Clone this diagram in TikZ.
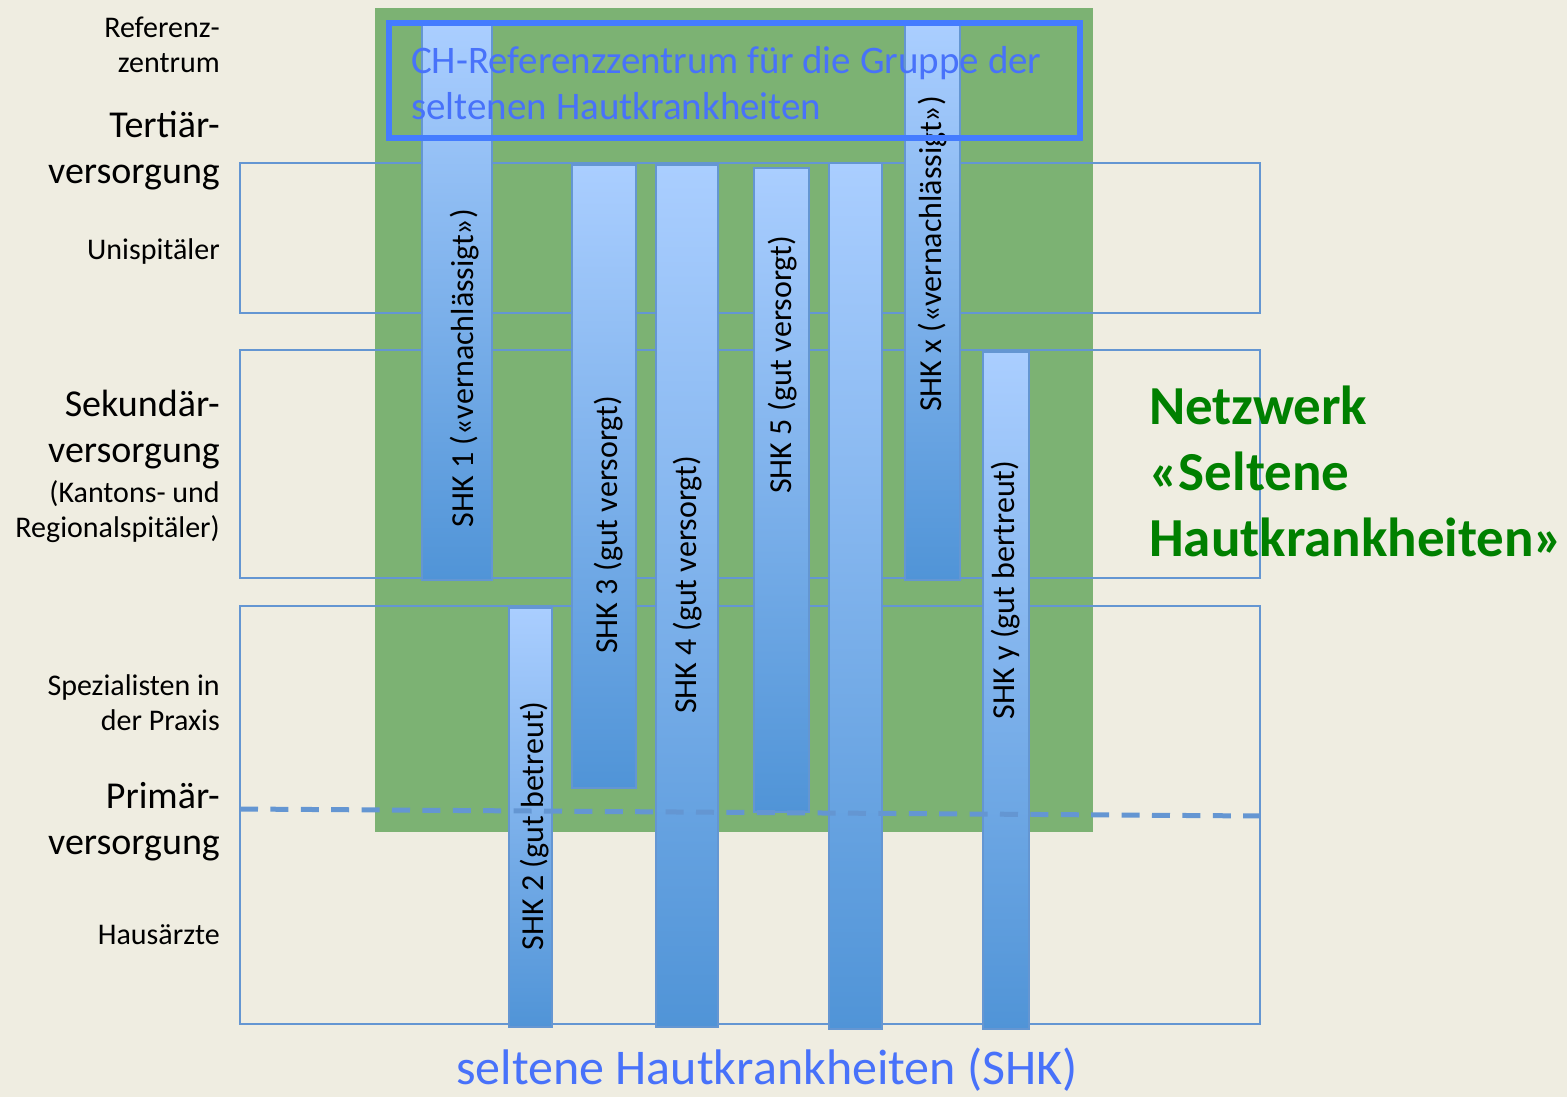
\documentclass[tikz,border=0pt]{standalone}
\usepackage{fontspec}
\setmainfont{Carlito}
\usetikzlibrary{positioning}
\definecolor{myBack}{RGB}{239, 237, 225}
\definecolor{myGreen}{RGB}{124, 178, 115}
\definecolor{myFrame}{RGB}{68, 124, 255}
\definecolor{myLine}{RGB}{100, 150, 210}
\definecolor{myBarTop}{RGB}{170, 206, 255}
\definecolor{myBarBot}{RGB}{80, 148, 215}
\definecolor{myText}{RGB}{72, 114, 250}
\definecolor{myNet}{RGB}{0, 128, 0}
\tikzstyle{level}= [draw=myLine, line width=1.5pt, inner sep=0pt]
\tikzstyle{bar}= [draw=myLine, line width=1.2pt, inner sep=0pt, top color=myBarTop, bottom color=myBarBot]
\tikzstyle{shk}= [rotate=90, font=\fontsize{32}{38}\selectfont]
\tikzstyle{small}= [anchor=east, align=right, inner sep=0pt, font=\fontsize{30}{35}\selectfont]
\tikzstyle{big}= [anchor=east, align=right, inner sep=0pt, font=\fontsize{38}{46}\selectfont]

\begin{document}
\begin{tikzpicture}[x=1pt,y=-1pt]
    % page and network area
    \useasboundingbox[fill=myBack] (0,0) rectangle (1567,1097);
    \fill[myGreen] (375,8) rectangle (1093,832);

    % care levels
    \node [level, minimum width=1020pt, minimum height=150pt] (Tert) at (750,238) {};
    \node [level, minimum width=1020pt, minimum height=228pt] (Sek) at (750,464) {};
    \node [level, minimum width=1020pt, minimum height=418pt] (Prim) at (750,815) {};

    % disease bars
    \node [bar, minimum width=70pt, minimum height=555pt] (Bar1) at (457,302.5) {};
    \node [bar, minimum width=43pt, minimum height=419pt] (Bar2) at (530.5,817.5) {};
    \node [bar, minimum width=64pt, minimum height=623pt] (Bar3) at (604,476.5) {};
    \node [bar, minimum width=62pt, minimum height=862pt] (Bar4) at (687,596) {};
    \node [bar, minimum width=55pt, minimum height=644pt] (Bar5) at (781.5,490) {};
    \node [bar, minimum width=53pt, minimum height=866pt] (Bar6) at (855.5,596) {};
    \node [bar, minimum width=55pt, minimum height=555pt] (BarX) at (932.5,302.5) {};
    \node [bar, minimum width=46pt, minimum height=677pt] (BarY) at (1006,690.5) {};

    \node [shk] (Shk1) at (465,368) {SHK 1 («vernachlässigt»)};
    \node [shk] (Shk2) at (535,826) {SHK 2 (gut betreut)};
    \node [shk] (Shk3) at (609,525) {SHK 3 (gut versorgt)};
    \node [shk] (Shk4) at (688,585) {SHK 4 (gut versorgt)};
    \node [shk] (Shk5) at (783,365) {SHK 5 (gut versorgt)};
    \node [shk] (ShkX) at (933,254) {SHK x («vernachlässigt»)};
    \node [shk] (ShkY) at (1006,590) {SHK y (gut bertreut)};

    % border primary care
    \coordinate (DashL) at (240,809);
    \coordinate (DashR) at (1260,816);
    \draw[myLine, line width=5pt, dash pattern=on 18pt off 12.4pt] (DashL) -- (DashR);

    % reference centre
    \node [draw=myFrame, line width=6pt, minimum width=691pt, minimum height=115pt] (Ref) at (734.5,80.5) {};
    \node [anchor=west, align=left, inner sep=0pt, text=myText, font=\fontsize{39}{46}\selectfont] (RefText) at (411,83)
    {CH-Referenzzentrum für die Gruppe der\\seltenen Hautkrankheiten};

    % level labels
    \node [small] (LblRef) at (220,45) {Referenz-\\zentrum};
    \node [big] (LblTert) at (220,151) {Tertiär-\\versorgung};
    \node [small] (LblUni) at (220,252) {Unispitäler};
    \node [big] (LblSek) at (220,430) {Sekundär-\\versorgung};
    \node [small] (LblKant) at (220,512) {(Kantons- und\\Regionalspitäler)};
    \node [small] (LblSpez) at (220,703) {Spezialisten in\\der Praxis};
    \node [big] (LblPrim) at (220,822) {Primär-\\versorgung};
    \node [small] (LblHaus) at (220,935) {Hausärzte};

    \node [anchor=west, align=left, inner sep=0pt, text=myNet, font=\fontsize{55}{66}\selectfont\bfseries] (Net) at (1149,471)
    {Netzwerk\\«Seltene\\Hautkrankheiten»};
    \node [text=myText, font=\fontsize{50}{56}\selectfont] (Axis) at (767,1070) {seltene Hautkrankheiten (SHK)};
\end{tikzpicture}
\end{document}
